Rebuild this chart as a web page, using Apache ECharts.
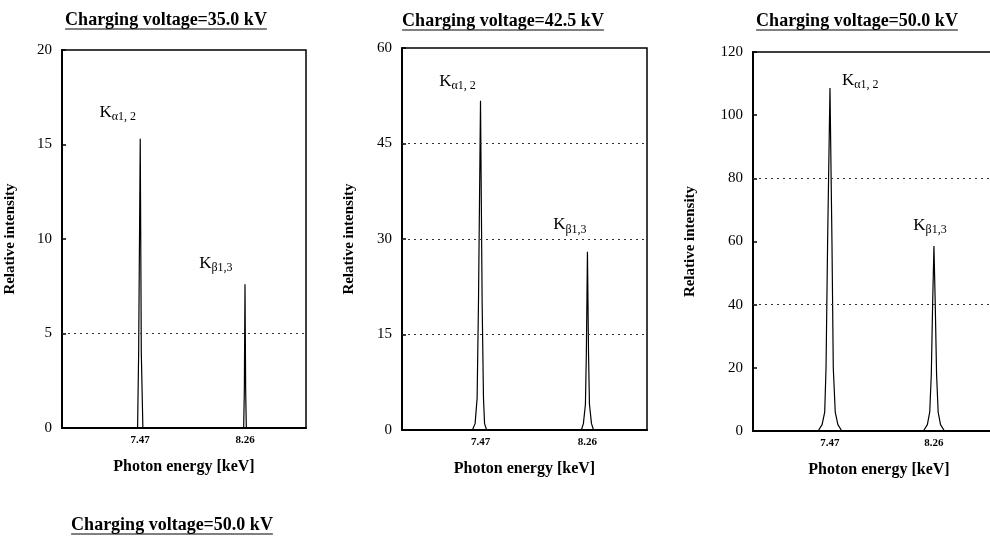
<!DOCTYPE html>
<html>
<head>
<meta charset="utf-8">
<script src="https://cdn.jsdelivr.net/npm/echarts@6/dist/echarts.min.js"></script>
<style>
  html, body { margin: 0; padding: 0; background: #fff; }
  #main { width: 990px; height: 536px; }
</style>
</head>
<body>
<div id="main"></div>
<script>
// 数据：三个充电电压下的光谱
const voltages = ['35.0', '42.5', '50.0'];
const tickValues = [7.47, 8.26];
const tickLabels = ['7.47', '8.26'];
const yMax = [20, 60, 120];
const yStep = [5, 15, 20];
const gridLevels = [[5], [15, 30, 45], [40, 80]];

const spectrum35 = [
  [6.9, 0], [7.45, 0], [7.458, 4], [7.47, 15.3], [7.478, 4], [7.49, 0],
  [8.25, 0], [8.255, 2], [8.26, 7.6], [8.265, 2], [8.27, 0], [8.7, 0]
];
const spectrum425 = [
  [6.9, 0], [7.41, 0], [7.43, 1], [7.445, 5], [7.455, 20], [7.47, 51.7],
  [7.482, 20], [7.492, 5], [7.5, 1], [7.515, 0],
  [8.215, 0], [8.23, 1], [8.245, 4], [8.252, 12], [8.26, 28], [8.268, 12],
  [8.275, 4], [8.29, 1], [8.305, 0], [8.7, 0]
];
const spectrum50 = [
  [6.9, 0], [7.38, 0], [7.41, 2], [7.43, 6], [7.44, 20], [7.452, 60], [7.47, 108.6],
  [7.485, 60], [7.495, 20], [7.51, 6], [7.53, 2], [7.56, 0],
  [8.18, 0], [8.21, 2], [8.228, 6], [8.24, 18], [8.25, 40], [8.26, 58.6],
  [8.27, 40], [8.28, 18], [8.292, 6], [8.31, 2], [8.34, 0], [8.75, 0]
];
const spectra = [spectrum35, spectrum425, spectrum50];

const serif = '"Liberation Serif", "DejaVu Serif", serif';

// 布局
const grids = [
  { left: 62, top: 50, width: 244, height: 378 },
  { left: 402, top: 48, width: 245, height: 382 },
  { left: 753, top: 52, width: 252, height: 379 }
];
const xRanges = [[6.88, 8.72], [6.89, 8.70], [6.885, 8.80]];
const yNameGap = [44, 45, 55];
// 峰标签位置（数据坐标）
const kaPos = [[7.30, 16.7], [7.30, 54.7], [7.70, 111.1]];
const kbPos = [[8.04, 8.7], [8.13, 32.2], [8.23, 65.2]];
const titleCenter = [[166, 20], [503, 21], [857, 21], [172, 525]];

let myChart = echarts.init(document.getElementById('main'));

const ctx = document.createElement('canvas').getContext('2d');
const titleFont = 'bold 18px ' + serif;
ctx.font = titleFont;

const graphics = [];
titleCenter.forEach((c, i) => {
  const txt = 'Charging voltage=' + (voltages[i] || voltages[2]) + ' kV';
  const w = ctx.measureText(txt).width;
  graphics.push({
    type: 'text', x: c[0], y: c[1],
    style: { text: txt, font: titleFont, fill: '#000', align: 'center', verticalAlign: 'middle' }
  });
  graphics.push({
    type: 'line',
    shape: { x1: c[0] - w / 2, y1: c[1] + 9, x2: c[0] + w / 2, y2: c[1] + 9 },
    style: { stroke: '#000', lineWidth: 1 }
  });
});

const peakRich = {
  k: { fontSize: 17, fontFamily: serif, color: '#000' },
  s: { fontSize: 12, fontFamily: serif, color: '#000', padding: [9, 0, 0, 0] }
};

let option = {
  animation: false,
  backgroundColor: '#fff',
  graphic: graphics,
  grid: grids.map(g => Object.assign({
    show: true, borderColor: '#000', borderWidth: 1.5, outerBoundsMode: 'none'
  }, g)),
  xAxis: grids.map((g, i) => ({
    type: 'value', gridIndex: i, min: xRanges[i][0], max: xRanges[i][1],
    name: 'Photon energy [keV]', nameLocation: 'middle', nameGap: 31,
    nameTextStyle: { fontFamily: serif, fontWeight: 'bold', fontSize: 16, color: '#000' },
    axisLine: { lineStyle: { color: '#000', width: 2 } },
    axisTick: { show: false },
    splitLine: { show: false },
    axisLabel: {
      customValues: tickValues,
      formatter: v => tickLabels[tickValues.findIndex(t => Math.abs(t - v) < 1e-6)],
      fontFamily: serif, fontWeight: 'bold', fontSize: 11, color: '#000', margin: 7
    }
  })),
  yAxis: grids.map((g, i) => ({
    type: 'value', gridIndex: i, min: 0, max: yMax[i], interval: yStep[i],
    name: 'Relative intensity', nameLocation: 'middle', nameGap: yNameGap[i], nameRotate: 90,
    nameTextStyle: { fontFamily: serif, fontWeight: 'bold', fontSize: 15, color: '#000' },
    axisLine: { show: true, lineStyle: { color: '#000', width: 2 } },
    axisTick: { show: true, inside: true, length: 4, lineStyle: { color: '#000', width: 1.5 } },
    splitLine: { show: false },
    axisLabel: { fontFamily: serif, fontSize: 15, color: '#000', margin: 10 }
  })),
  series: spectra.map((d, i) => ({
    type: 'line', xAxisIndex: i, yAxisIndex: i, data: d,
    showSymbol: false, silent: true,
    lineStyle: { color: '#000', width: 1.2 },
    markLine: {
      silent: true, symbol: 'none', label: { show: false },
      lineStyle: { color: '#333', type: [2, 4], width: 1 },
      data: gridLevels[i].map(v => ({ yAxis: v }))
    },
    markPoint: {
      silent: true, symbol: 'circle', symbolSize: 0,
      label: { show: true, position: 'inside', rich: peakRich },
      data: [
        { coord: kaPos[i], label: { formatter: '{k|K}{s|α1, 2}' } },
        { coord: kbPos[i], label: { formatter: '{k|K}{s|β1,3}' } }
      ]
    }
  }))
};

myChart.setOption(option);
</script>
</body>
</html>
